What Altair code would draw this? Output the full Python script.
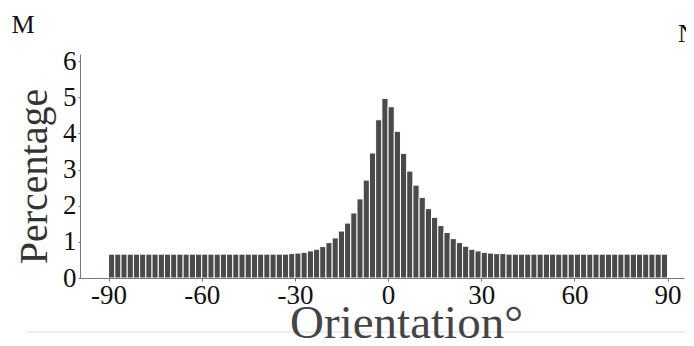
import altair as alt
import pandas as pd

# Histogram of orientations, 2-degree bins from -90 to 90
bin_starts = list(range(-90, 90, 2))
percentages = [
    0.66, 0.66, 0.66, 0.66, 0.66, 0.66, 0.66, 0.66, 0.66, 0.66,
    0.66, 0.66, 0.66, 0.66, 0.66, 0.66, 0.66, 0.66, 0.66, 0.66,
    0.66, 0.66, 0.66, 0.66, 0.66, 0.66, 0.66, 0.66, 0.66, 0.675,
    0.69, 0.71, 0.75, 0.795, 0.87, 0.98, 1.11, 1.30, 1.52, 1.80,
    2.19, 2.71, 3.46, 4.38, 4.97, 4.74, 4.06, 3.45, 2.96, 2.57,
    2.23, 1.92, 1.68, 1.45, 1.26, 1.09, 0.98, 0.88, 0.795, 0.75,
    0.71, 0.69, 0.675, 0.675, 0.66, 0.66, 0.66, 0.66, 0.66, 0.66,
    0.66, 0.66, 0.66, 0.66, 0.66, 0.66, 0.66, 0.66, 0.66, 0.66,
    0.66, 0.66, 0.66, 0.66, 0.66, 0.66, 0.66, 0.66, 0.66, 0.66,
]
x_ticks = [-90, -60, -30, 0, 30, 60, 90]
y_ticks = [0, 1, 2, 3, 4, 5, 6]
panel_labels = ["M", "N"]

df = pd.DataFrame({
    "start": bin_starts,
    "end": [s + 2 for s in bin_starts],
    "pct": percentages,
})

FONT = "Liberation Serif"
W, H = 604, 224

xscale = alt.Scale(domain=[-99.2, 95.3], nice=False, zero=False)
yscale = alt.Scale(domain=[0, 6.2], nice=False)

bars = alt.Chart(df).mark_bar(
    fill="#4a4a4a", stroke="#ffffff", strokeWidth=1, clip=False
).encode(
    x=alt.X("start:Q", scale=xscale, axis=alt.Axis(
        values=x_ticks, title="Orientation°", titleFont=FONT, titleFontSize=47,
        titleFontWeight="normal", titleColor="#444444", titleX=326, titleY=59,
        titleBaseline="alphabetic", titleAnchor="middle",
        labelFont=FONT, labelFontSize=27, labelColor="#111111", labelPadding=1,
        labelExpr="'' + datum.value",
        domainColor="#777777", tickColor="#777777", tickSize=3, grid=False,
        labelFlush=False, zindex=1,
    )),
    x2="end:Q",
    y=alt.Y("pct:Q", scale=yscale, axis=alt.Axis(
        values=y_ticks, title="Percentage", titleFont=FONT, titleFontSize=40,
        titleFontWeight="normal", titleColor="#333333", titleX=-46, titleY=122,
        titleBaseline="middle", titleAngle=-90,
        labelFont=FONT, labelFontSize=27, labelColor="#111111", labelPadding=2,
        domainColor="#777777", tickColor="#777777", tickSize=2, grid=False,
        labelFlush=False, zindex=1,
    )),
    y2=alt.datum(0),
)

line = alt.Chart(pd.DataFrame({"a": [0]})).mark_rule(
    color="#dddddd", strokeWidth=1
).encode(x=alt.value(-54), x2=alt.value(620), y=alt.value(278))

lab_df = pd.DataFrame({"t": panel_labels})
labels_m = alt.Chart(lab_df.iloc[[0]]).mark_text(
    font=FONT, fontSize=26, color="#111111", align="center", baseline="alphabetic"
).encode(text="t:N", x=alt.value(-57), y=alt.value(-21))
labels_n = alt.Chart(lab_df.iloc[[1]]).mark_text(
    font=FONT, fontSize=26, color="#111111", align="left", baseline="alphabetic"
).encode(text="t:N", x=alt.value(598), y=alt.value(-12))

chart = alt.layer(line, bars, labels_m, labels_n).properties(
    width=W, height=H,
    autosize=alt.AutoSizeParams(type="none"),
    padding={"left": 72, "top": 46, "right": 2, "bottom": 60},
).configure(background="white", view={"stroke": "transparent", "strokeWidth": 0})

chart.save("out.html", embed_options={"renderer": "svg", "actions": False})
